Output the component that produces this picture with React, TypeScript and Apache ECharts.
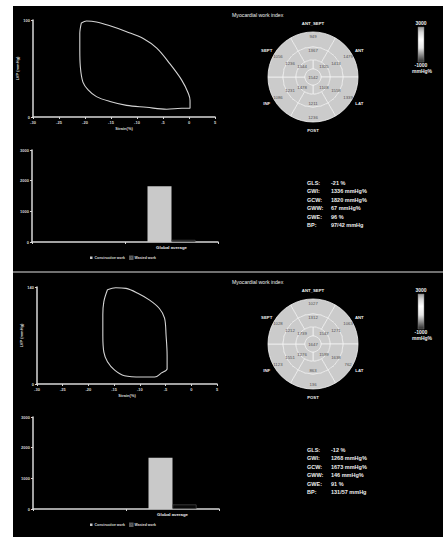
import React, { useEffect, useRef } from 'react';
import * as echarts from 'echarts';

// ---------- data ----------
const strainMin = -30;
const strainMax = 5;
const strainStep = 5;

const loopTop: [number, number][] = [
  [-20.7, 97], [-19.7, 99], [-17.8, 98], [-15.2, 94], [-12, 88], [-8.8, 81], [-6.2, 71],
  [-3.7, 55], [-1.4, 38], [-0.1, 24], [0.2, 17], [0.2, 9], [-1.4, 9], [-4.3, 8], [-8.2, 10],
  [-12, 12], [-15.2, 16], [-17.8, 21], [-19.4, 28], [-20.4, 36], [-20.9, 52], [-21, 69],
  [-21, 86], [-20.7, 97],
];
const loopBottom: [number, number][] = [
  [-16.3, 136], [-14.7, 139], [-12.7, 138], [-10.4, 131], [-8.1, 121], [-6.2, 109], [-5.2, 95],
  [-4.9, 70], [-4.7, 41], [-4.7, 22], [-5.8, 16], [-7.1, 10], [-9.7, 10], [-13, 12], [-14.9, 20],
  [-16.3, 32], [-17, 46], [-17.2, 70], [-17.2, 100], [-17, 119], [-16.3, 136],
];
const lvpMaxTop = 100;
const lvpMaxBottom = 140;

const barCategories = ['', 'Global average'];
const constructiveTop = [null, 1820];
const wastedTop = [null, 67];
const constructiveBottom = [null, 1673];
const wastedBottom = [null, 146];
const workMax = 3000;
const workStep = 1000;

const wallLabels = ['ANT_SEPT', 'ANT', 'LAT', 'POST', 'INF', 'SEPT'];
// basal & mid: clockwise from top (ANT_SEPT); apical: clockwise from upper-right
const basalTop = [949, 1479, 1339, 1236, 1086, 1056];
const midTop = [1367, 1413, 1558, 1211, 1231, 1236];
const apicalTop = [1325, 1108, 1478, 1544];
const apexTop = [1542];
const basalBottom = [1027, 1063, 762, 136, 1123, 1028];
const midBottom = [1312, 1271, 1638, 863, 1551, 1212];
const apicalBottom = [1547, 1599, 1276, 1739];
const apexBottom = [1647];

const statLabels = ['GLS:', 'GWI:', 'GCW:', 'GWW:', 'GWE:', 'BP:'];
const statsTop = ['-21 %', '1336 mmHg%', '1820 mmHg%', '67 mmHg%', '96 %', '97/42 mmHg'];
const statsBottom = ['-12 %', '1268 mmHg%', '1673 mmHg%', '146 mmHg%', '91 %', '131/57 mmHg'];

const bullseyeTitle = 'Myocardial work index';
const colorbarTicks = ['3000', '-1000'];
const colorbarUnit = 'mmHg%';
const legendNames = ['Constructive work', 'Wasted work'];

// ---------- styling ----------
const FONT = 'Arial, "Liberation Sans", sans-serif';
const AX = '#d8d8d8';

export default function App() {
  const ref = useRef<HTMLDivElement>(null);

  useEffect(() => {
    if (!ref.current) return;
    const chart = echarts.init(ref.current, null, { renderer: 'svg' });

    const panels = [
      { dy: 0, loop: loopTop, lvpMax: lvpMaxTop, loopLeft: 33, loopWidth: 182, barLeft: 32,
        cons: constructiveTop, wast: wastedTop, basal: basalTop, mid: midTop, apical: apicalTop,
        apex: apexTop, stats: statsTop, cy: 77 },
      { dy: 267, loop: loopBottom, lvpMax: lvpMaxBottom, loopLeft: 37, loopWidth: 180, barLeft: 33,
        cons: constructiveBottom, wast: wastedBottom, basal: basalBottom, mid: midBottom,
        apical: apicalBottom, apex: apexBottom, stats: statsBottom, cy: 344 },
    ];

    const grid: any[] = [];
    const xAxis: any[] = [];
    const yAxis: any[] = [];
    const series: any[] = [];
    const legend: any[] = [];
    const graphic: any[] = [
      { type: 'rect', z: -10, shape: { x: 13, y: 6, width: 430, height: 531 }, style: { fill: '#000' } },
      { type: 'rect', z: -9, shape: { x: 13, y: 271, width: 430, height: 2 }, style: { fill: '#707070' } },
    ];

    const axisCommon = {
      axisLine: { show: true, onZero: false, lineStyle: { color: AX, width: 1.5 } },
      axisTick: { show: true, length: 2, lineStyle: { color: AX, width: 1 } },
      axisLabel: {
        fontSize: 4, color: AX, margin: 3, fontFamily: FONT, fontWeight: 'bold',
        formatter: (v: any) => String(v),
      },
      splitLine: { show: false },
      nameTextStyle: { fontSize: 4, color: AX, fontFamily: FONT, fontWeight: 'bold' },
    };

    const ring = (values: number[], r0: number, r: number, startAngle: number, cy: number, pos = 'inside') => ({
      type: 'pie',
      silent: true,
      radius: [r0, r],
      center: [313, cy],
      startAngle,
      clockwise: true,
      label: { show: true, position: pos, formatter: '{b}', fontSize: 4.3, color: '#505050', fontFamily: FONT },
      labelLine: { show: false },
      itemStyle: { color: '#cbcbcb', borderColor: '#f2f2f2', borderWidth: 0.8 },
      emphasis: { disabled: true },
      data: values.map((v) => ({ name: String(v), value: 1 })),
    });

    panels.forEach((p, i) => {
      const gi = i * 2;
      grid.push({ left: p.loopLeft, top: 20 + p.dy, width: p.loopWidth, height: 97 });
      grid.push({ left: p.barLeft, top: 150 + p.dy, width: 186, height: 92 });

      xAxis.push({
        ...axisCommon, type: 'value', gridIndex: gi, min: strainMin, max: strainMax, interval: strainStep,
        name: 'Strain(%)', nameLocation: 'middle', nameGap: 9,
      });
      yAxis.push({
        ...axisCommon, type: 'value', gridIndex: gi, min: 0, max: p.lvpMax, interval: p.lvpMax,
        name: 'LVP (mmHg)', nameLocation: 'middle', nameGap: 8, nameRotate: 90,
      });
      xAxis.push({
        ...axisCommon, type: 'category', gridIndex: gi + 1, data: barCategories,
        axisTick: { show: true, length: 2, alignWithLabel: false, lineStyle: { color: AX } },
        axisLabel: { fontSize: 4.3, color: '#eee', margin: 3, fontFamily: FONT, fontWeight: 'bold', interval: 0 },
      });
      yAxis.push({
        ...axisCommon, type: 'value', gridIndex: gi + 1, min: 0, max: workMax, interval: workStep,
      });

      series.push({
        type: 'line', xAxisIndex: gi, yAxisIndex: gi, data: p.loop, showSymbol: false, smooth: 0.35,
        silent: true, lineStyle: { color: '#d4d4d4', width: 1.1 },
      });
      series.push({
        type: 'bar', name: legendNames[0], xAxisIndex: gi + 1, yAxisIndex: gi + 1, data: p.cons,
        barWidth: 24, barGap: '0%', silent: true, itemStyle: { color: '#c9c9c9' },
      });
      series.push({
        type: 'bar', name: legendNames[1], xAxisIndex: gi + 1, yAxisIndex: gi + 1, data: p.wast,
        barWidth: 24, barGap: '0%', silent: true,
        itemStyle: { color: '#080808', borderColor: '#5a5a5a', borderWidth: 0.6 },
      });

      legend.push({
        data: legendNames, left: 85, top: 250.5 + p.dy, itemWidth: 2.5, itemHeight: 2.5, itemGap: 4,
        icon: 'rect', selectedMode: false,
        textStyle: { fontSize: 3.5, color: '#ddd', fontFamily: FONT, fontWeight: 'bold', padding: [0, 0, 0, -3] },
      });

      // bullseye
      series.push(ring(p.basal, 30, 45, 120, p.cy));
      series.push(ring(p.mid, 17, 30, 120, p.cy));
      series.push(ring(p.apical, 8, 17, 90, p.cy));
      series.push(ring(p.apex, 0, 8, 90, p.cy, 'center'));
      series.push({
        type: 'pie', silent: true, radius: [46, 55], center: [313, p.cy], startAngle: 120, clockwise: true,
        label: { show: true, position: 'inside', formatter: '{b}', fontSize: 4.3, color: '#eee', fontFamily: FONT, fontWeight: 'bold' },
        labelLine: { show: false },
        itemStyle: { color: 'rgba(0,0,0,0)', borderWidth: 0 },
        emphasis: { disabled: true },
        data: wallLabels.map((n) => ({ name: n, value: 1 })),
      });

      // title
      graphic.push({
        type: 'text', x: 232, y: 15 + p.dy,
        style: { text: bullseyeTitle, fill: '#eee', fontSize: 5.2, fontFamily: FONT, verticalAlign: 'middle' },
      });

      // colorbar
      graphic.push({
        type: 'rect', shape: { x: 418, y: 27 + p.dy, width: 6, height: 35 },
        style: {
          stroke: '#777', lineWidth: 0.5,
          fill: new echarts.graphic.LinearGradient(0, 0, 0, 1, [
            { offset: 0, color: '#999' },
            { offset: 0.15, color: '#d8d8d8' },
            { offset: 0.35, color: '#ffffff' },
            { offset: 0.6, color: '#e6e6e6' },
            { offset: 0.8, color: '#8a8a8a' },
            { offset: 1, color: '#2a2a2a' },
          ]),
        },
      });
      graphic.push({
        type: 'text', x: 421, y: 23 + p.dy,
        style: { text: colorbarTicks[0], fill: '#eee', fontSize: 5, fontFamily: FONT, fontWeight: 'bold', align: 'center', verticalAlign: 'middle' },
      });
      graphic.push({
        type: 'text', x: 421, y: 64.5 + p.dy,
        style: { text: colorbarTicks[1], fill: '#eee', fontSize: 5, fontFamily: FONT, fontWeight: 'bold', align: 'center', verticalAlign: 'middle' },
      });
      graphic.push({
        type: 'text', x: 422, y: 70.5 + p.dy,
        style: { text: colorbarUnit, fill: '#eee', fontSize: 5, fontFamily: FONT, fontWeight: 'bold', align: 'center', verticalAlign: 'middle' },
      });

      // stats
      statLabels.forEach((lab, k) => {
        const y = 183 + k * 8.4 + p.dy;
        graphic.push({
          type: 'text', x: 307, y,
          style: { text: lab, fill: '#eee', fontSize: 5.5, fontFamily: FONT, fontWeight: 'bold', verticalAlign: 'middle' },
        });
        graphic.push({
          type: 'text', x: 331, y,
          style: { text: p.stats[k], fill: '#eee', fontSize: 5.5, fontFamily: FONT, fontWeight: 'bold', verticalAlign: 'middle' },
        });
      });
    });

    chart.setOption({
      animation: false,
      backgroundColor: '#ffffff',
      grid, xAxis, yAxis, series, legend, graphic,
    });

    return () => chart.dispose();
  }, []);

  return (
    <div
      ref={ref}
      style={{ position: 'absolute', left: 0, top: 0, width: 443, height: 537 }}
    />
  );
}
